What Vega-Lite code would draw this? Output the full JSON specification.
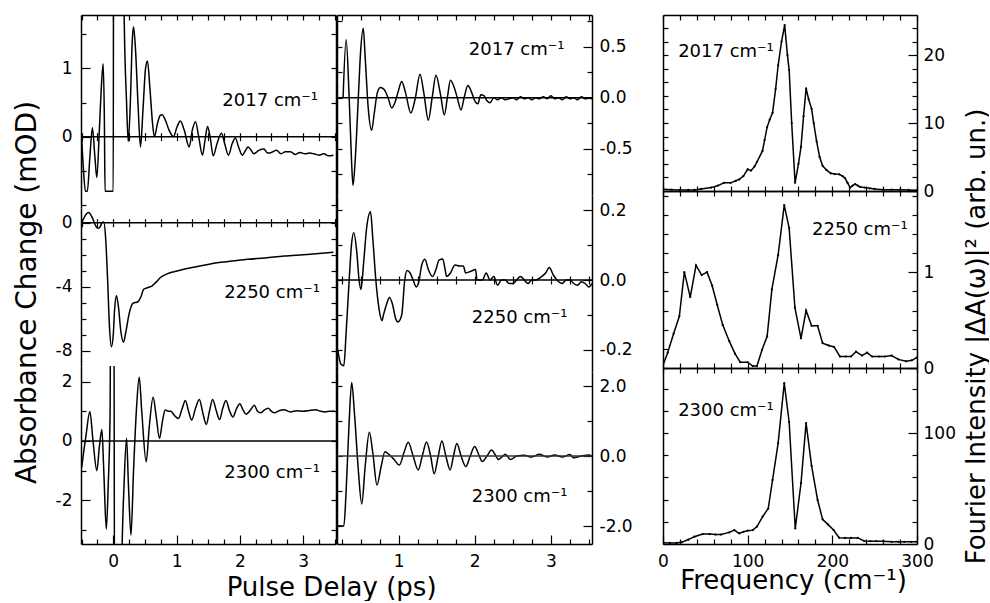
{
"$schema":"https://vega.github.io/schema/vega-lite/v6.json",
"padding":{"left":12,"top":14,"right":0,"bottom":0},
"background":"white",
"config":{
 "view":{"stroke":null},
 "font":"DejaVu Sans",
 "title":{"font":"DejaVu Sans","fontWeight":"normal","fontSize":26,"color":"black"},
 "axis":{"domainColor":"black","tickColor":"black","labelColor":"black","titleColor":"black","domainWidth":1.5,"tickWidth":1.2,"tickSize":-5,"labelFontSize":17,"labelFont":"DejaVu Sans","titleFont":"DejaVu Sans","titleFontWeight":"normal","titleFontSize":26,"grid":false,"labelFlush":false,"labelOverlap":false,"title":null}
},
"hconcat":[
{"hconcat":[
 {"vconcat":[
  {"width":255,"height":193,
   "data":{"values":[{"t":-0.5,"v":0},{"t":-0.47,"v":-0.5},{"t":-0.44,"v":-0.8},{"t":-0.41,"v":-0.8},{"t":-0.37,"v":-0.3},{"t":-0.33,"v":0.13},{"t":-0.29,"v":-0.3},{"t":-0.26,"v":-0.6},{"t":-0.22,"v":0.1},{"t":-0.19,"v":0.7},{"t":-0.16,"v":1.07},{"t":-0.14,"v":0.2},{"t":-0.13,"v":-0.8},{"t":-0.06,"v":-0.8},{"t":0.0,"v":-0.8},{"t":0.005,"v":4},{"t":0.15,"v":4},{"t":0.17,"v":1.9},{"t":0.21,"v":0.5},{"t":0.236,"v":-0.07},{"t":0.27,"v":0.5},{"t":0.30,"v":1.4},{"t":0.32,"v":1.61},{"t":0.35,"v":1.3},{"t":0.39,"v":0.5},{"t":0.43,"v":-0.15},{"t":0.47,"v":0.4},{"t":0.51,"v":1.0},{"t":0.54,"v":1.11},{"t":0.58,"v":0.7},{"t":0.62,"v":0.2},{"t":0.65,"v":0.0},{"t":0.70,"v":0.2},{"t":0.74,"v":0.31},{"t":0.77,"v":0.32},{"t":0.82,"v":0.25},{"t":0.88,"v":0.1},{"t":0.95,"v":0.0},{"t":1.01,"v":0.15},{"t":1.06,"v":0.23},{"t":1.12,"v":0.1},{"t":1.20,"v":-0.15},{"t":1.25,"v":0.1},{"t":1.30,"v":0.22},{"t":1.35,"v":0.0},{"t":1.41,"v":-0.27},{"t":1.45,"v":-0.05},{"t":1.49,"v":0.15},{"t":1.53,"v":0.0},{"t":1.58,"v":-0.28},{"t":1.64,"v":-0.1},{"t":1.71,"v":0.05},{"t":1.76,"v":-0.1},{"t":1.82,"v":-0.27},{"t":1.88,"v":-0.1},{"t":1.93,"v":-0.02},{"t":1.98,"v":-0.15},{"t":2.04,"v":-0.27},{"t":2.09,"v":-0.2},{"t":2.13,"v":-0.15},{"t":2.18,"v":-0.2},{"t":2.22,"v":-0.25},{"t":2.30,"v":-0.2},{"t":2.38,"v":-0.18},{"t":2.44,"v":-0.24},{"t":2.50,"v":-0.23},{"t":2.58,"v":-0.2},{"t":2.65,"v":-0.25},{"t":2.72,"v":-0.22},{"t":2.80,"v":-0.22},{"t":2.88,"v":-0.26},{"t":2.95,"v":-0.23},{"t":3.03,"v":-0.25},{"t":3.10,"v":-0.24},{"t":3.17,"v":-0.25},{"t":3.25,"v":-0.27},{"t":3.33,"v":-0.25},{"t":3.40,"v":-0.28},{"t":3.48,"v":-0.27}]},
   "layer":[
    {"mark":{"type":"line","clip":true,"color":"black","strokeWidth":1.5,"interpolate":"monotone"},
     "encoding":{
      "x":{"field":"t","type":"quantitative","scale":{"domain":[-0.51,3.52],"nice":false,"zero":false},"axis":{"orient":"bottom","offset":-75.3,"domain":false,"labels":false,"tickSize":8,"values":[-0.5,-0.25,0,0.25,0.5,0.75,1,1.25,1.5,1.75,2,2.25,2.5,2.75,3,3.25,3.5]}},
      "y":{"field":"v","type":"quantitative","scale":{"domain":[-1.044,1.782],"nice":false,"zero":false},"axis":{"orient":"left","values":[0,1],"tickSize":-9,"labelExpr":"''+datum.value","labelPadding":18}}}},
    {"mark":{"type":"line","strokeOpacity":0,"clip":true},
     "encoding":{
      "x":{"field":"t","type":"quantitative","scale":{"domain":[-0.51,3.52],"nice":false,"zero":false},"axis":{"orient":"top","values":[-0.5,-0.25,0,0.25,0.5,0.75,1,1.25,1.5,1.75,2,2.25,2.5,2.75,3,3.25,3.5],"labels":false}},
      "y":{"field":"v","type":"quantitative","scale":{"domain":[-1.044,1.782],"nice":false,"zero":false},"axis":{"orient":"right","values":[-1,-0.5,0,0.5,1,1.5],"labels":false}}}},
    {"mark":{"type":"line","strokeOpacity":0,"clip":true},
     "encoding":{
      "x":{"field":"t","type":"quantitative","scale":{"domain":[-0.51,3.52],"nice":false,"zero":false},"axis":null},
      "y":{"field":"v","type":"quantitative","scale":{"domain":[-1.044,1.782],"nice":false,"zero":false},"axis":{"orient":"left","values":[-1,-0.5,0.5,1.5],"labels":false,"domain":false}}}},
    {"data":{"values":[{"z":0}]},"mark":{"type":"rule","color":"black","strokeWidth":1.5},"encoding":{"y":{"field":"z","type":"quantitative","axis":null}}},
    {"data":{"values":[{"label":"2017 cm⁻¹"}]},"mark":{"type":"text","fontSize":18,"color":"black","font":"DejaVu Sans"},"encoding":{"text":{"field":"label"},"x":{"datum":2.48,"axis":null},"y":{"datum":0.52,"axis":null}}}
   ],
   "resolve":{"axis":{"x":"independent","y":"independent"}}},
  {"width":255,"height":158,
   "data":{"values":[{"t":-0.5,"v":0},{"t":-0.45,"v":0.4},{"t":-0.39,"v":0.63},{"t":-0.33,"v":0.3},{"t":-0.27,"v":-0.25},{"t":-0.23,"v":-0.35},{"t":-0.2,"v":-0.2},{"t":-0.18,"v":0},{"t":-0.15,"v":0.05},{"t":-0.12,"v":-1.0},{"t":-0.09,"v":-3.5},{"t":-0.06,"v":-6.5},{"t":-0.03,"v":-7.75},{"t":0.0,"v":-7.0},{"t":0.02,"v":-5.5},{"t":0.05,"v":-4.56},{"t":0.08,"v":-5.2},{"t":0.12,"v":-6.8},{"t":0.16,"v":-7.47},{"t":0.2,"v":-6.8},{"t":0.25,"v":-5.7},{"t":0.31,"v":-5.04},{"t":0.39,"v":-4.94},{"t":0.44,"v":-4.6},{"t":0.48,"v":-4.16},{"t":0.55,"v":-4.05},{"t":0.61,"v":-3.96},{"t":0.68,"v":-3.7},{"t":0.75,"v":-3.41},{"t":0.85,"v":-3.2},{"t":0.96,"v":-3.06},{"t":1.1,"v":-2.92},{"t":1.27,"v":-2.79},{"t":1.45,"v":-2.65},{"t":1.64,"v":-2.5},{"t":1.88,"v":-2.4},{"t":2.12,"v":-2.29},{"t":2.4,"v":-2.2},{"t":2.7,"v":-2.08},{"t":3.0,"v":-2.0},{"t":3.25,"v":-1.93},{"t":3.48,"v":-1.85}]},
   "layer":[
    {"mark":{"type":"line","clip":true,"color":"black","strokeWidth":1.5,"interpolate":"monotone"},
     "encoding":{
      "x":{"field":"t","type":"quantitative","scale":{"domain":[-0.51,3.52],"nice":false,"zero":false},"axis":{"orient":"bottom","offset":-147.3,"domain":false,"labels":false,"tickSize":8,"values":[-0.5,-0.25,0,0.25,0.5,0.75,1,1.25,1.5,1.75,2,2.25,2.5,2.75,3,3.25,3.5]}},
      "y":{"field":"v","type":"quantitative","scale":{"domain":[-8.956,0.919],"nice":false,"zero":false},"axis":{"orient":"left","values":[0,-4,-8],"tickSize":-9,"labelExpr":"''+datum.value","labelPadding":18,"title":"Absorbance Change (mOD)","titleAngle":270,"titleBaseline":"bottom","titleAlign":"center","titleX":-40,"titleY":84,"titleFontSize":28}}}},
    {"mark":{"type":"line","strokeOpacity":0,"clip":true},
     "encoding":{
      "x":{"field":"t","type":"quantitative","scale":{"domain":[-0.51,3.52],"nice":false,"zero":false},"axis":null},
      "y":{"field":"v","type":"quantitative","scale":{"domain":[-8.956,0.919],"nice":false,"zero":false},"axis":{"orient":"right","values":[0,-1,-2,-3,-4,-5,-6,-7,-8],"labels":false}}}},
    {"mark":{"type":"line","strokeOpacity":0,"clip":true},
     "encoding":{
      "x":{"field":"t","type":"quantitative","scale":{"domain":[-0.51,3.52],"nice":false,"zero":false},"axis":null},
      "y":{"field":"v","type":"quantitative","scale":{"domain":[-8.956,0.919],"nice":false,"zero":false},"axis":{"orient":"left","values":[-1,-2,-3,-5,-6,-7],"labels":false,"domain":false}}}},
    {"data":{"values":[{"z":0}]},"mark":{"type":"rule","color":"black","strokeWidth":1.5},"encoding":{"y":{"field":"z","type":"quantitative","axis":null}}},
    {"data":{"values":[{"label":"2250 cm⁻¹"}]},"mark":{"type":"text","fontSize":18,"color":"black","font":"DejaVu Sans"},"encoding":{"text":{"field":"label"},"x":{"datum":2.51,"axis":null},"y":{"datum":-4.41,"axis":null}}}
   ],
   "resolve":{"axis":{"x":"independent","y":"independent"}}},
  {"width":255,"height":178,
   "data":{"values":[{"t":-0.5,"v":-0.89},{"t":-0.43,"v":0.2},{"t":-0.37,"v":0.99},{"t":-0.32,"v":0.0},{"t":-0.26,"v":-1.0},{"t":-0.22,"v":-0.2},{"t":-0.18,"v":0.39},{"t":-0.15,"v":-1.0},{"t":-0.11,"v":-2.97},{"t":-0.08,"v":-1.5},{"t":-0.05,"v":1.0},{"t":-0.04,"v":6},{"t":0.01,"v":6},{"t":0.02,"v":-6},{"t":0.12,"v":-6},{"t":0.14,"v":-3.5},{"t":0.17,"v":-1.5},{"t":0.21,"v":0.09},{"t":0.24,"v":-1.5},{"t":0.28,"v":-3.17},{"t":0.32,"v":-1.0},{"t":0.37,"v":1.2},{"t":0.41,"v":2.15},{"t":0.45,"v":1.0},{"t":0.52,"v":-0.7},{"t":0.57,"v":0.5},{"t":0.63,"v":1.47},{"t":0.68,"v":0.8},{"t":0.73,"v":0.09},{"t":0.78,"v":0.7},{"t":0.82,"v":1.04},{"t":0.87,"v":1.0},{"t":0.91,"v":1.0},{"t":0.97,"v":0.85},{"t":1.03,"v":0.76},{"t":1.09,"v":1.1},{"t":1.14,"v":1.36},{"t":1.19,"v":1.0},{"t":1.24,"v":0.71},{"t":1.30,"v":1.1},{"t":1.36,"v":1.4},{"t":1.42,"v":0.9},{"t":1.47,"v":0.56},{"t":1.52,"v":1.0},{"t":1.57,"v":1.4},{"t":1.63,"v":1.0},{"t":1.68,"v":0.72},{"t":1.73,"v":1.1},{"t":1.78,"v":1.36},{"t":1.84,"v":1.0},{"t":1.89,"v":0.81},{"t":1.95,"v":1.1},{"t":2.0,"v":1.25},{"t":2.05,"v":1.05},{"t":2.1,"v":0.9},{"t":2.17,"v":1.05},{"t":2.23,"v":1.2},{"t":2.28,"v":1.0},{"t":2.33,"v":0.95},{"t":2.39,"v":1.05},{"t":2.45,"v":1.1},{"t":2.5,"v":1.0},{"t":2.55,"v":0.95},{"t":2.62,"v":1.02},{"t":2.7,"v":1.05},{"t":2.8,"v":0.98},{"t":2.9,"v":1.02},{"t":3.0,"v":1.0},{"t":3.1,"v":1.03},{"t":3.2,"v":1.05},{"t":3.28,"v":1.0},{"t":3.35,"v":0.98},{"t":3.42,"v":1.0},{"t":3.5,"v":1.0}]},
   "layer":[
    {"mark":{"type":"line","clip":true,"color":"black","strokeWidth":1.5,"interpolate":"monotone"},
     "encoding":{
      "x":{"field":"t","type":"quantitative","scale":{"domain":[-0.51,3.52],"nice":false,"zero":false},"axis":{"orient":"bottom","values":[0,1,2,3],"tickSize":-9,"labelExpr":"''+datum.value","labelPadding":18}},
      "y":{"field":"v","type":"quantitative","scale":{"domain":[-3.468,2.525],"nice":false,"zero":false},"axis":{"orient":"left","values":[2,0,-2],"tickSize":-9,"labelExpr":"''+datum.value","labelPadding":18}}}},
    {"mark":{"type":"line","strokeOpacity":0,"clip":true},
     "encoding":{
      "x":{"field":"t","type":"quantitative","scale":{"domain":[-0.51,3.52],"nice":false,"zero":false},"axis":null},
      "y":{"field":"v","type":"quantitative","scale":{"domain":[-3.468,2.525],"nice":false,"zero":false},"axis":{"orient":"right","values":[2,1,0,-1,-2,-3],"labels":false}}}},
    {"mark":{"type":"line","strokeOpacity":0,"clip":true},
     "encoding":{
      "x":{"field":"t","type":"quantitative","scale":{"domain":[-0.51,3.52],"nice":false,"zero":false},"axis":{"orient":"bottom","values":[-0.5,-0.25,0.25,0.5,0.75,1.25,1.5,1.75,2.25,2.5,2.75,3.25,3.5],"labels":false,"domain":false}},
      "y":{"field":"v","type":"quantitative","scale":{"domain":[-3.468,2.525],"nice":false,"zero":false},"axis":{"orient":"left","values":[1,-1,-3],"labels":false,"domain":false}}}},
    {"data":{"values":[{"z":0}]},"mark":{"type":"rule","color":"black","strokeWidth":1.5},"encoding":{"y":{"field":"z","type":"quantitative","axis":null}}},
    {"data":{"values":[{"label":"2300 cm⁻¹"}]},"mark":{"type":"text","fontSize":18,"color":"black","font":"DejaVu Sans"},"encoding":{"text":{"field":"label"},"x":{"datum":2.51,"axis":null},"y":{"datum":-1.07,"axis":null}}}
   ],
   "resolve":{"axis":{"x":"independent","y":"independent"}}}
 ],"spacing":0,"bounds":"flush"},
 {"vconcat":[
  {"width":255,"height":180,
   "data":{"values":[{"t":0.27,"v":0},{"t":0.31,"v":0.57},{"t":0.35,"v":0.0},{"t":0.38,"v":-0.6},{"t":0.40,"v":-0.86},{"t":0.43,"v":-0.6},{"t":0.47,"v":0.0},{"t":0.5,"v":0.45},{"t":0.535,"v":0.68},{"t":0.56,"v":0.4},{"t":0.6,"v":-0.1},{"t":0.645,"v":-0.32},{"t":0.68,"v":-0.15},{"t":0.72,"v":0.05},{"t":0.76,"v":0.1},{"t":0.81,"v":0.08},{"t":0.86,"v":0.0},{"t":0.91,"v":-0.1},{"t":0.95,"v":-0.05},{"t":0.99,"v":0.05},{"t":1.04,"v":0.16},{"t":1.09,"v":0.05},{"t":1.16,"v":-0.15},{"t":1.22,"v":0.0},{"t":1.28,"v":0.23},{"t":1.33,"v":0.05},{"t":1.39,"v":-0.22},{"t":1.44,"v":0.0},{"t":1.49,"v":0.22},{"t":1.55,"v":0.03},{"t":1.6,"v":-0.17},{"t":1.64,"v":0.0},{"t":1.68,"v":0.17},{"t":1.73,"v":0.1},{"t":1.77,"v":0.0},{"t":1.82,"v":-0.12},{"t":1.86,"v":0.0},{"t":1.91,"v":0.12},{"t":1.96,"v":0.05},{"t":2.0,"v":-0.03},{"t":2.04,"v":-0.06},{"t":2.08,"v":0.03},{"t":2.12,"v":0.02},{"t":2.16,"v":-0.03},{"t":2.2,"v":-0.05},{"t":2.25,"v":0.0},{"t":2.3,"v":-0.02},{"t":2.35,"v":0.0},{"t":2.4,"v":-0.02},{"t":2.45,"v":-0.01},{"t":2.5,"v":0.0},{"t":2.55,"v":-0.02},{"t":2.6,"v":0.01},{"t":2.65,"v":-0.01},{"t":2.7,"v":0.0},{"t":2.75,"v":-0.02},{"t":2.8,"v":0.0},{"t":2.85,"v":-0.01},{"t":2.9,"v":0.01},{"t":2.95,"v":-0.01},{"t":3.0,"v":0.02},{"t":3.05,"v":-0.01},{"t":3.1,"v":0.0},{"t":3.15,"v":-0.02},{"t":3.2,"v":0.01},{"t":3.25,"v":-0.01},{"t":3.3,"v":0.0},{"t":3.35,"v":-0.02},{"t":3.4,"v":0.01},{"t":3.45,"v":-0.01},{"t":3.5,"v":0.0},{"t":3.54,"v":-0.01}]},
   "layer":[
    {"mark":{"type":"line","clip":true,"color":"black","strokeWidth":1.5,"interpolate":"monotone"},
     "encoding":{
      "x":{"field":"t","type":"quantitative","scale":{"domain":[0.19,3.54],"nice":false,"zero":false},"axis":{"orient":"top","values":[0.25,0.5,0.75,1,1.25,1.5,1.75,2,2.25,2.5,2.75,3,3.25,3.5],"labels":false}},
      "y":{"field":"v","type":"quantitative","scale":{"domain":[-0.954,0.811],"nice":false,"zero":false},"axis":{"orient":"left","values":[0.75,0.5,0.25,0,-0.25,-0.5,-0.75],"labels":false}}}},
    {"mark":{"type":"line","strokeOpacity":0,"clip":true},
     "encoding":{
      "x":{"field":"t","type":"quantitative","scale":{"domain":[0.19,3.54],"nice":false,"zero":false},"axis":null},
      "y":{"field":"v","type":"quantitative","scale":{"domain":[-0.954,0.811],"nice":false,"zero":false},"axis":{"orient":"right","values":[0.5,0,-0.5],"tickSize":-9,"labelExpr":"(datum.value<0?'-':'')+format(abs(datum.value),'.1f')","labelPadding":16}}}},
    {"mark":{"type":"line","strokeOpacity":0,"clip":true},
     "encoding":{
      "x":{"field":"t","type":"quantitative","scale":{"domain":[0.19,3.54],"nice":false,"zero":false},"axis":null},
      "y":{"field":"v","type":"quantitative","scale":{"domain":[-0.954,0.811],"nice":false,"zero":false},"axis":{"orient":"right","values":[0.75,0.25,-0.25,-0.75],"labels":false,"domain":false}}}},
    {"data":{"values":[{"z":0}]},"mark":{"type":"rule","color":"black","strokeWidth":1.5},"encoding":{"y":{"field":"z","type":"quantitative","axis":null}}},
    {"data":{"values":[{"label":"2017 cm⁻¹"}]},"mark":{"type":"text","fontSize":18,"color":"black","font":"DejaVu Sans"},"encoding":{"text":{"field":"label"},"x":{"datum":2.55,"axis":null},"y":{"datum":0.47,"axis":null}}}
   ],
   "resolve":{"axis":{"x":"independent","y":"independent"}}},
  {"width":255,"height":177,
   "data":{"values":[{"t":0.2,"v":-0.2},{"t":0.24,"v":-0.24},{"t":0.28,"v":-0.245},{"t":0.31,"v":-0.15},{"t":0.35,"v":0.0},{"t":0.38,"v":0.1},{"t":0.41,"v":0.135},{"t":0.45,"v":0.08},{"t":0.48,"v":0.0},{"t":0.505,"v":-0.027},{"t":0.54,"v":0.05},{"t":0.58,"v":0.15},{"t":0.63,"v":0.195},{"t":0.66,"v":0.12},{"t":0.7,"v":0.0},{"t":0.745,"v":-0.086},{"t":0.78,"v":-0.116},{"t":0.8,"v":-0.1},{"t":0.84,"v":-0.07},{"t":0.88,"v":-0.05},{"t":0.92,"v":-0.07},{"t":0.96,"v":-0.11},{"t":0.99,"v":-0.12},{"t":1.04,"v":-0.1},{"t":1.08,"v":0.0},{"t":1.11,"v":0.027},{"t":1.15,"v":0.02},{"t":1.19,"v":0.0},{"t":1.23,"v":-0.02},{"t":1.27,"v":0.0},{"t":1.3,"v":0.04},{"t":1.345,"v":0.059},{"t":1.39,"v":0.03},{"t":1.446,"v":0.01},{"t":1.49,"v":0.03},{"t":1.53,"v":0.057},{"t":1.58,"v":0.06},{"t":1.61,"v":0.03},{"t":1.63,"v":0.01},{"t":1.68,"v":0.02},{"t":1.74,"v":0.043},{"t":1.8,"v":0.04},{"t":1.85,"v":0.04},{"t":1.88,"v":0.02},{"t":1.95,"v":0.025},{"t":2.01,"v":0.03},{"t":2.03,"v":0.0},{"t":2.1,"v":0.0},{"t":2.15,"v":0.02},{"t":2.2,"v":0.0},{"t":2.25,"v":0.01},{"t":2.3,"v":-0.015},{"t":2.35,"v":0.0},{"t":2.4,"v":0.0},{"t":2.45,"v":-0.01},{"t":2.5,"v":-0.01},{"t":2.55,"v":0.0},{"t":2.6,"v":0.01},{"t":2.65,"v":0.0},{"t":2.7,"v":-0.01},{"t":2.75,"v":0.0},{"t":2.8,"v":0.0},{"t":2.88,"v":0.01},{"t":2.93,"v":0.02},{"t":2.98,"v":0.036},{"t":3.03,"v":0.015},{"t":3.08,"v":0.0},{"t":3.15,"v":-0.01},{"t":3.2,"v":0.0},{"t":3.25,"v":0.0},{"t":3.3,"v":-0.01},{"t":3.35,"v":-0.015},{"t":3.4,"v":-0.005},{"t":3.45,"v":-0.01},{"t":3.5,"v":-0.02},{"t":3.54,"v":-0.01}]},
   "layer":[
    {"mark":{"type":"line","clip":true,"color":"black","strokeWidth":1.5,"interpolate":"monotone"},
     "encoding":{
      "x":{"field":"t","type":"quantitative","scale":{"domain":[0.19,3.54],"nice":false,"zero":false},"axis":{"orient":"bottom","offset":-96,"domain":false,"labels":false,"tickSize":8,"values":[0.25,0.5,0.75,1,1.25,1.5,1.75,2,2.25,2.5,2.75,3,3.25,3.5]}},
      "y":{"field":"v","type":"quantitative","scale":{"domain":[-0.263,0.243],"nice":false,"zero":false},"axis":{"orient":"left","values":[0.2,0.1,0,-0.1,-0.2],"labels":false}}}},
    {"mark":{"type":"line","strokeOpacity":0,"clip":true},
     "encoding":{
      "x":{"field":"t","type":"quantitative","scale":{"domain":[0.19,3.54],"nice":false,"zero":false},"axis":null},
      "y":{"field":"v","type":"quantitative","scale":{"domain":[-0.263,0.243],"nice":false,"zero":false},"axis":{"orient":"right","values":[0.2,0,-0.2],"tickSize":-9,"labelExpr":"(datum.value<0?'-':'')+format(abs(datum.value),'.1f')","labelPadding":16}}}},
    {"mark":{"type":"line","strokeOpacity":0,"clip":true},
     "encoding":{
      "x":{"field":"t","type":"quantitative","scale":{"domain":[0.19,3.54],"nice":false,"zero":false},"axis":null},
      "y":{"field":"v","type":"quantitative","scale":{"domain":[-0.263,0.243],"nice":false,"zero":false},"axis":{"orient":"right","values":[0.1,-0.1],"labels":false,"domain":false}}}},
    {"data":{"values":[{"z":0}]},"mark":{"type":"rule","color":"black","strokeWidth":1.5},"encoding":{"y":{"field":"z","type":"quantitative","axis":null}}},
    {"data":{"values":[{"label":"2250 cm⁻¹"}]},"mark":{"type":"text","fontSize":18,"color":"black","font":"DejaVu Sans"},"encoding":{"text":{"field":"label"},"x":{"datum":2.59,"axis":null},"y":{"datum":-0.11,"axis":null}}}
   ],
   "resolve":{"axis":{"x":"independent","y":"independent"}}},
  {"width":255,"height":172,
   "data":{"values":[{"t":0.2,"v":-1.99},{"t":0.28,"v":-2.0},{"t":0.31,"v":-1.0},{"t":0.35,"v":1.0},{"t":0.383,"v":2.1},{"t":0.42,"v":1.2},{"t":0.47,"v":-0.4},{"t":0.515,"v":-1.37},{"t":0.56,"v":-0.3},{"t":0.615,"v":0.68},{"t":0.66,"v":0.1},{"t":0.715,"v":-0.83},{"t":0.77,"v":-0.3},{"t":0.82,"v":0.12},{"t":0.87,"v":0.05},{"t":0.94,"v":-0.1},{"t":1.01,"v":-0.26},{"t":1.07,"v":0.1},{"t":1.126,"v":0.39},{"t":1.19,"v":0.0},{"t":1.257,"v":-0.4},{"t":1.31,"v":0.0},{"t":1.367,"v":0.4},{"t":1.42,"v":0.0},{"t":1.467,"v":-0.51},{"t":1.52,"v":0.0},{"t":1.568,"v":0.43},{"t":1.62,"v":0.0},{"t":1.677,"v":-0.4},{"t":1.72,"v":0.0},{"t":1.765,"v":0.36},{"t":1.82,"v":0.0},{"t":1.883,"v":-0.3},{"t":1.94,"v":0.0},{"t":2.0,"v":0.27},{"t":2.05,"v":0.05},{"t":2.1,"v":-0.16},{"t":2.16,"v":0.0},{"t":2.22,"v":0.17},{"t":2.27,"v":0.03},{"t":2.31,"v":-0.1},{"t":2.36,"v":-0.02},{"t":2.4,"v":0.05},{"t":2.47,"v":-0.1},{"t":2.55,"v":0.0},{"t":2.65,"v":0.02},{"t":2.75,"v":-0.03},{"t":2.85,"v":0.05},{"t":2.95,"v":-0.03},{"t":3.05,"v":0.03},{"t":3.15,"v":-0.03},{"t":3.25,"v":0.04},{"t":3.3,"v":-0.05},{"t":3.4,"v":0.0},{"t":3.5,"v":0.03},{"t":3.54,"v":0.0}]},
   "layer":[
    {"mark":{"type":"line","clip":true,"color":"black","strokeWidth":1.5,"interpolate":"monotone"},
     "encoding":{
      "x":{"field":"t","type":"quantitative","scale":{"domain":[0.19,3.54],"nice":false,"zero":false},"axis":{"orient":"bottom","values":[1,2,3],"tickSize":-9,"labelExpr":"''+datum.value","labelPadding":18}},
      "y":{"field":"v","type":"quantitative","scale":{"domain":[-2.514,2.4],"nice":false,"zero":false},"axis":{"orient":"left","values":[2,1,0,-1,-2],"labels":false}}}},
    {"mark":{"type":"line","strokeOpacity":0,"clip":true},
     "encoding":{
      "x":{"field":"t","type":"quantitative","scale":{"domain":[0.19,3.54],"nice":false,"zero":false},"axis":null},
      "y":{"field":"v","type":"quantitative","scale":{"domain":[-2.514,2.4],"nice":false,"zero":false},"axis":{"orient":"right","values":[2,0,-2],"tickSize":-9,"labelExpr":"(datum.value<0?'-':'')+format(abs(datum.value),'.1f')","labelPadding":16}}}},
    {"mark":{"type":"line","strokeOpacity":0,"clip":true},
     "encoding":{
      "x":{"field":"t","type":"quantitative","scale":{"domain":[0.19,3.54],"nice":false,"zero":false},"axis":{"orient":"bottom","values":[0.25,0.5,0.75,1.25,1.5,1.75,2.25,2.5,2.75,3.25,3.5],"labels":false,"domain":false}},
      "y":{"field":"v","type":"quantitative","scale":{"domain":[-2.514,2.4],"nice":false,"zero":false},"axis":{"orient":"right","values":[1,-1],"labels":false,"domain":false}}}},
    {"data":{"values":[{"z":0}]},"mark":{"type":"rule","color":"#333333","strokeWidth":1.3},"encoding":{"y":{"field":"z","type":"quantitative","axis":null}}},
    {"data":{"values":[{"label":"2300 cm⁻¹"}]},"mark":{"type":"text","fontSize":18,"color":"black","font":"DejaVu Sans"},"encoding":{"text":{"field":"label"},"x":{"datum":2.59,"axis":null},"y":{"datum":-1.18,"axis":null}}}
   ],
   "resolve":{"axis":{"x":"independent","y":"independent"}}}
 ],"spacing":0,"bounds":"flush"}
],
"spacing":-2,
"title":{"text":"Pulse Delay (ps)","orient":"bottom","anchor":"middle","fontSize":26,"fontWeight":"normal","font":"DejaVu Sans","color":"black","offset":6,"dx":9}},
{"vconcat":[
  {"width":254,"height":176,
   "data":{"values":[{"f":0,"v":0.25},{"f":10,"v":0.2},{"f":20,"v":0.15},{"f":30,"v":0.15},{"f":37,"v":0.15},{"f":45,"v":0.3},{"f":57,"v":0.5},{"f":65,"v":0.8},{"f":72,"v":1.2},{"f":80,"v":1.2},{"f":86,"v":1.5},{"f":90,"v":1.7},{"f":95,"v":2.2},{"f":100,"v":3.2},{"f":104,"v":3.0},{"f":108,"v":3.6},{"f":111,"v":4.3},{"f":117.5,"v":5.9},{"f":120,"v":7.5},{"f":123,"v":9.4},{"f":126,"v":10.5},{"f":129.4,"v":11.5},{"f":133,"v":15},{"f":136,"v":18.5},{"f":140,"v":22},{"f":143.7,"v":24.4},{"f":147,"v":20},{"f":149,"v":17.8},{"f":152,"v":10},{"f":156,"v":1.2},{"f":160,"v":4},{"f":163,"v":6.5},{"f":166,"v":11},{"f":169,"v":15.1},{"f":172,"v":13.5},{"f":175.5,"v":12.1},{"f":178,"v":10},{"f":181.5,"v":7.25},{"f":185,"v":5},{"f":188.5,"v":3.7},{"f":193,"v":3.1},{"f":198,"v":2.6},{"f":203,"v":2.5},{"f":208,"v":2.45},{"f":212,"v":2.2},{"f":215,"v":1.9},{"f":218,"v":1.2},{"f":221,"v":0.5},{"f":224,"v":0.8},{"f":227,"v":1.0},{"f":230,"v":0.8},{"f":233,"v":0.6},{"f":238,"v":0.5},{"f":244,"v":0.4},{"f":250,"v":0.3},{"f":260,"v":0.2},{"f":270,"v":0.2},{"f":280,"v":0.2},{"f":290,"v":0.15},{"f":300,"v":0.1}]},
   "layer":[
    {"mark":{"type":"line","clip":true,"color":"black","strokeWidth":1.5},
     "encoding":{
      "x":{"field":"f","type":"quantitative","scale":{"domain":[0,300],"nice":false,"zero":false},"axis":{"orient":"top","values":[0,20,40,60,80,100,120,140,160,180,200,220,240,260,280,300],"labels":false}},
      "y":{"field":"v","type":"quantitative","scale":{"domain":[0,25.9],"nice":false,"zero":false},"axis":{"orient":"left","values":[0,2,4,6,8,10,12,14,16,18,20,22,24],"labels":false}}}},
    {"mark":{"type":"line","strokeOpacity":0,"clip":true},
     "encoding":{
      "x":{"field":"f","type":"quantitative","scale":{"domain":[0,300],"nice":false,"zero":false},"axis":{"orient":"bottom","values":[0,20,40,60,80,100,120,140,160,180,200,220,240,260,280,300],"labels":false}},
      "y":{"field":"v","type":"quantitative","scale":{"domain":[0,25.9],"nice":false,"zero":false},"axis":{"orient":"right","values":[0,10,20],"tickSize":-9,"labelExpr":"''+datum.value","labelPadding":15}}}},
    {"mark":{"type":"line","strokeOpacity":0,"clip":true},
     "encoding":{
      "x":{"field":"f","type":"quantitative","scale":{"domain":[0,300],"nice":false,"zero":false},"axis":null},
      "y":{"field":"v","type":"quantitative","scale":{"domain":[0,25.9],"nice":false,"zero":false},"axis":{"orient":"right","values":[2,4,6,8,12,14,16,18,22,24],"labels":false,"domain":false}}}},
    {"mark":{"type":"point","filled":true,"size":5,"color":"black","opacity":1,"clip":true},
     "encoding":{"x":{"field":"f","type":"quantitative","scale":{"domain":[0,300],"nice":false,"zero":false},"axis":null},"y":{"field":"v","type":"quantitative","scale":{"domain":[0,25.9],"nice":false,"zero":false},"axis":null}}},
    {"data":{"values":[{"label":"2017 cm⁻¹"}]},"mark":{"type":"text","fontSize":18,"color":"black","font":"DejaVu Sans"},"encoding":{"text":{"field":"label"},"x":{"datum":74.4,"axis":null},"y":{"datum":20.5,"axis":null}}}
   ],
   "resolve":{"axis":{"x":"independent","y":"independent"}}},
  {"width":254,"height":177,
   "data":{"values":[{"f":0,"v":0.03},{"f":5.5,"v":0.16},{"f":12.6,"v":0.36},{"f":19.3,"v":0.54},{"f":25.2,"v":1.0},{"f":32.2,"v":0.74},{"f":39,"v":1.07},{"f":45.7,"v":0.97},{"f":52,"v":1.0},{"f":58,"v":0.86},{"f":64,"v":0.66},{"f":70.5,"v":0.45},{"f":78.3,"v":0.28},{"f":85,"v":0.15},{"f":91.3,"v":0.06},{"f":100,"v":0.06},{"f":106,"v":0.02},{"f":111,"v":0.02},{"f":117,"v":0.19},{"f":123,"v":0.33},{"f":128.6,"v":0.82},{"f":136,"v":1.18},{"f":143.2,"v":1.7},{"f":149,"v":1.46},{"f":155.8,"v":0.63},{"f":163,"v":0.31},{"f":169,"v":0.6},{"f":175.5,"v":0.44},{"f":182.6,"v":0.44},{"f":188.5,"v":0.26},{"f":195.6,"v":0.235},{"f":202,"v":0.22},{"f":209,"v":0.12},{"f":216,"v":0.12},{"f":222,"v":0.12},{"f":228,"v":0.17},{"f":235,"v":0.13},{"f":241,"v":0.16},{"f":247,"v":0.12},{"f":255,"v":0.12},{"f":262,"v":0.12},{"f":270,"v":0.13},{"f":278,"v":0.09},{"f":287,"v":0.07},{"f":294,"v":0.08},{"f":300,"v":0.11}]},
   "layer":[
    {"mark":{"type":"line","clip":true,"color":"black","strokeWidth":1.5},
     "encoding":{
      "x":{"field":"f","type":"quantitative","scale":{"domain":[0,300],"nice":false,"zero":false},"axis":{"orient":"top","values":[0,20,40,60,80,100,120,140,160,180,200,220,240,260,280,300],"labels":false}},
      "y":{"field":"v","type":"quantitative","scale":{"domain":[0,1.847],"nice":false,"zero":false},"axis":{"orient":"left","values":[0,0.2,0.4,0.6,0.8,1,1.2,1.4,1.6,1.8],"labels":false}}}},
    {"mark":{"type":"line","strokeOpacity":0,"clip":true},
     "encoding":{
      "x":{"field":"f","type":"quantitative","scale":{"domain":[0,300],"nice":false,"zero":false},"axis":{"orient":"bottom","values":[0,20,40,60,80,100,120,140,160,180,200,220,240,260,280,300],"labels":false}},
      "y":{"field":"v","type":"quantitative","scale":{"domain":[0,1.847],"nice":false,"zero":false},"axis":{"orient":"right","values":[0,1],"tickSize":-9,"labelExpr":"''+datum.value","labelPadding":15,"title":"Fourier Intensity |ΔA(ω)|² (arb. un.)","titleAngle":270,"titleBaseline":"top","titleAlign":"center","titleX":46,"titleY":145,"titleFontSize":26}}}},
    {"mark":{"type":"line","strokeOpacity":0,"clip":true},
     "encoding":{
      "x":{"field":"f","type":"quantitative","scale":{"domain":[0,300],"nice":false,"zero":false},"axis":null},
      "y":{"field":"v","type":"quantitative","scale":{"domain":[0,1.847],"nice":false,"zero":false},"axis":{"orient":"right","values":[0.2,0.4,0.6,0.8,1.2,1.4,1.6,1.8],"labels":false,"domain":false}}}},
    {"mark":{"type":"point","filled":true,"size":5,"color":"black","opacity":1,"clip":true},
     "encoding":{"x":{"field":"f","type":"quantitative","scale":{"domain":[0,300],"nice":false,"zero":false},"axis":null},"y":{"field":"v","type":"quantitative","scale":{"domain":[0,1.847],"nice":false,"zero":false},"axis":null}}},
    {"data":{"values":[{"label":"2250 cm⁻¹"}]},"mark":{"type":"text","fontSize":18,"color":"black","font":"DejaVu Sans"},"encoding":{"text":{"field":"label"},"x":{"datum":232.6,"axis":null},"y":{"datum":1.44,"axis":null}}}
   ],
   "resolve":{"axis":{"x":"independent","y":"independent"}}},
  {"width":254,"height":176,
   "data":{"values":[{"f":0,"v":1.2},{"f":8,"v":1},{"f":16,"v":1},{"f":22,"v":1.5},{"f":30,"v":4},{"f":37,"v":6.6},{"f":46.9,"v":9},{"f":55,"v":9},{"f":62,"v":8.5},{"f":68.5,"v":8.5},{"f":78.3,"v":10.5},{"f":84.2,"v":12.6},{"f":90,"v":9.6},{"f":95,"v":11},{"f":100,"v":12},{"f":106,"v":12.5},{"f":111,"v":15.7},{"f":117.7,"v":24.7},{"f":124.3,"v":32},{"f":129.4,"v":57.8},{"f":136,"v":91},{"f":143.2,"v":145},{"f":149,"v":110},{"f":156.2,"v":14},{"f":163,"v":54.8},{"f":169,"v":109},{"f":175.5,"v":70.5},{"f":182.6,"v":39.7},{"f":188.5,"v":22.3},{"f":195,"v":17.5},{"f":201.5,"v":12.6},{"f":208,"v":5.7},{"f":215,"v":5.5},{"f":222,"v":5.5},{"f":230,"v":5.5},{"f":237.7,"v":2.7},{"f":245,"v":2.5},{"f":252,"v":2.5},{"f":260,"v":2.5},{"f":270,"v":2},{"f":278,"v":2},{"f":285,"v":2},{"f":293,"v":2},{"f":300,"v":2}]},
   "layer":[
    {"mark":{"type":"line","clip":true,"color":"black","strokeWidth":1.5},
     "encoding":{
      "x":{"field":"f","type":"quantitative","scale":{"domain":[0,300],"nice":false,"zero":false},"axis":{"orient":"top","values":[0,20,40,60,80,100,120,140,160,180,200,220,240,260,280,300],"labels":false}},
      "y":{"field":"v","type":"quantitative","scale":{"domain":[0,158.7],"nice":false,"zero":false},"axis":{"orient":"left","values":[0,20,40,60,80,100,120,140],"labels":false}}}},
    {"mark":{"type":"line","strokeOpacity":0,"clip":true},
     "encoding":{
      "x":{"field":"f","type":"quantitative","scale":{"domain":[0,300],"nice":false,"zero":false},"axis":{"orient":"bottom","values":[0,100,200,300],"tickSize":-9,"labelExpr":"''+datum.value","labelPadding":18,"title":"Frequency (cm⁻¹)","titleBaseline":"top","titleAlign":"center","titleX":130,"titleY":23,"titleFontSize":26}},
      "y":{"field":"v","type":"quantitative","scale":{"domain":[0,158.7],"nice":false,"zero":false},"axis":{"orient":"right","values":[0,100],"tickSize":-9,"labelExpr":"''+datum.value","labelPadding":15}}}},
    {"mark":{"type":"line","strokeOpacity":0,"clip":true},
     "encoding":{
      "x":{"field":"f","type":"quantitative","scale":{"domain":[0,300],"nice":false,"zero":false},"axis":{"orient":"bottom","values":[20,40,60,80,120,140,160,180,220,240,260,280],"labels":false,"domain":false}},
      "y":{"field":"v","type":"quantitative","scale":{"domain":[0,158.7],"nice":false,"zero":false},"axis":{"orient":"right","values":[20,40,60,80,120,140],"labels":false,"domain":false}}}},
    {"mark":{"type":"point","filled":true,"size":5,"color":"black","opacity":1,"clip":true},
     "encoding":{"x":{"field":"f","type":"quantitative","scale":{"domain":[0,300],"nice":false,"zero":false},"axis":null},"y":{"field":"v","type":"quantitative","scale":{"domain":[0,158.7],"nice":false,"zero":false},"axis":null}}},
    {"data":{"values":[{"label":"2300 cm⁻¹"}]},"mark":{"type":"text","fontSize":18,"color":"black","font":"DejaVu Sans"},"encoding":{"text":{"field":"label"},"x":{"datum":74.4,"axis":null},"y":{"datum":119.5,"axis":null}}}
   ],
   "resolve":{"axis":{"x":"independent","y":"independent"}}}
 ],"spacing":0,"bounds":"flush"}
],
"spacing":24
}
